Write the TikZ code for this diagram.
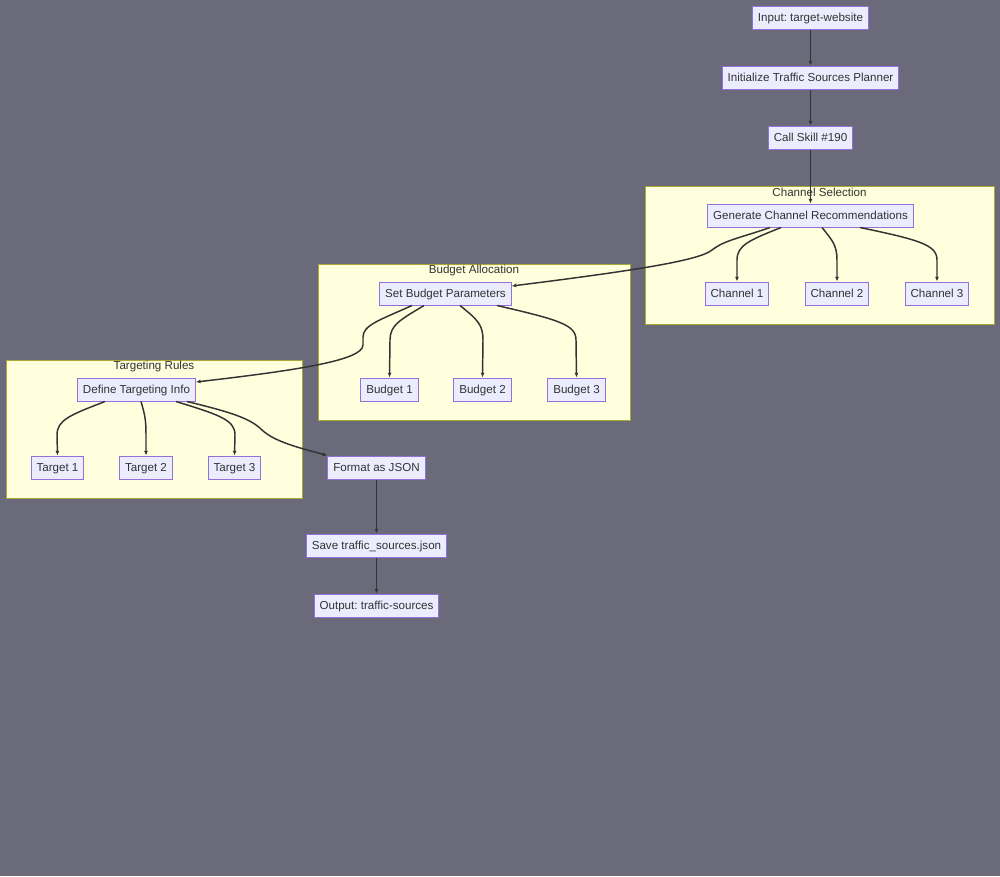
\documentclass[tikz,border=0pt]{standalone}
\usepackage{fontspec}
\setmainfont{Liberation Sans}
\frenchspacing
\usetikzlibrary{arrows.meta,calc}
\definecolor{canvas}{HTML}{6A6A7A}
\definecolor{boxfill}{HTML}{ECECFF}
\definecolor{boxline}{HTML}{9370DB}
\definecolor{groupfill}{HTML}{FFFFDE}
\definecolor{groupline}{HTML}{AAAA33}
\definecolor{ink}{HTML}{333333}
\tikzset{
	box/.style={draw=boxline,fill=boxfill,text=ink,inner xsep=4pt,inner ysep=0pt,minimum height=17.25pt,
		text height=8.2pt,text depth=2pt,line width=0.75pt},
	group/.style={draw=groupline,fill=groupfill,line width=0.75pt},
	grouptitle/.style={text=ink,inner sep=0pt},
	link/.style={draw=ink,line width=1.1pt,-{Latex[length=3.5pt,width=3pt]}}
}
\begin{document}
\begin{tikzpicture}[x=0.75pt,y=-0.75pt,font=\fontsize{8.7}{10}\selectfont]
				\fill[canvas] (0,0) rectangle (1000,876);
				\useasboundingbox (0,0) rectangle (1000,876);
				% clusters
				\draw[group] (645,186) rectangle (994,324);
				\node[grouptitle] (chantitle) at (819.5,192) {Channel Selection};
				\draw[group] (318,264) rectangle (630,420);
				\node[grouptitle] (budgettitle) at (474,270) {Budget Allocation};
				\draw[group] (6,360) rectangle (302,498);
				\node[grouptitle] (targettitle) at (154,366) {Targeting Rules};
				% nodes
				\node[box] (input) at (810.5,17.5) {Input: target-website};
				\node[box] (init) at (810.5,77.5) {Initialize Traffic Sources Planner};
				\node[box] (skill) at (810.5,137.5) {Call Skill \#190};
				\node[box] (gen) at (810.5,215.5) {Generate Channel Recommendations};
				\node[box] (setbudget) at (445.5,293.5) {Set Budget Parameters};
				\node[box] (define) at (136.5,389.5) {Define Targeting Info};
				\node[box] (format) at (376.5,467.5) {Format as JSON};
				\node[box] (save) at (376.5,545.5) {Save traffic\_sources.json};
				\node[box] (output) at (376.5,605.5) {Output: traffic-sources};
				\foreach \n/\x in {1/737,2/837,3/937}{
					\node[box] (chan\n) at (\x,293.5) {Channel \n};
				}
				\foreach \n/\x in {1/389.5,2/482.5,3/576.5}{
					\node[box] (budget\n) at (\x,389.5) {Budget \n};
				}
				\foreach \n/\x in {1/57.5,2/146,3/234.5}{
					\node[box] (target\n) at (\x,467.5) {Target \n};
				}
				% links
				\draw[link] (input) -- (init);
				\draw[link] (init) -- (skill);
				\draw[link] (skill) -- (gen);
				\draw[link] (format) -- (save);
				\draw[link] (save) -- (output);
				\draw[link] ($(gen.south)+(-40.5,0)$) .. controls (740,238) and (725,240) .. (712,250)
					.. controls (700,260) and (640,270) .. ($(setbudget.east)+(0,-7.5)$);
				\draw[link] ($(gen.south)+(-29.5,0)$) .. controls (750,240) and (737,245) .. (737,260) -- (chan1.north);
				\draw[link] ($(gen.south)+(11.5,0)$) .. controls (832,240) and (837,245) .. (837,260) -- (chan2.north);
				\draw[link] ($(gen.south)+(49.5,0)$) .. controls (920,240) and (937,245) .. (937,260) -- (chan3.north);
				\draw[link] ($(setbudget.south)+(-33.5,0)$) .. controls (380,320) and (363,325) .. (363,337) -- (363,345)
					.. controls (363,360) and (300,370) .. ($(define.east)+(0,-7.5)$);
				\draw[link] ($(setbudget.south)+(-21.5,0)$) .. controls (400,320) and (390,325) .. (390,340) -- (budget1.north);
				\draw[link] ($(setbudget.south)+(14.5,0)$) .. controls (478,320) and (483,325) .. (483,340) -- (budget2.north);
				\draw[link] ($(setbudget.south)+(51.5,0)$) .. controls (560,320) and (576,325) .. (576,340) -- (budget3.north);
				\draw[link] ($(define.south)+(-31.5,0)$) .. controls (70,415) and (57,420) .. (57,435) -- (target1.north);
				\draw[link] ($(define.south)+(4.5,0)$) .. controls (145,415) and (146,420) .. (146,435) -- (target2.north);
				\draw[link] ($(define.south)+(39.5,0)$) .. controls (220,415) and (235,420) .. (235,435) -- (target3.north);
				\draw[link] ($(define.south)+(50.5,0)$) .. controls (230,412) and (250,418) .. (262,430)
					.. controls (275,442) and (300,448) .. (format.north west);
			\end{tikzpicture}
\end{document}
